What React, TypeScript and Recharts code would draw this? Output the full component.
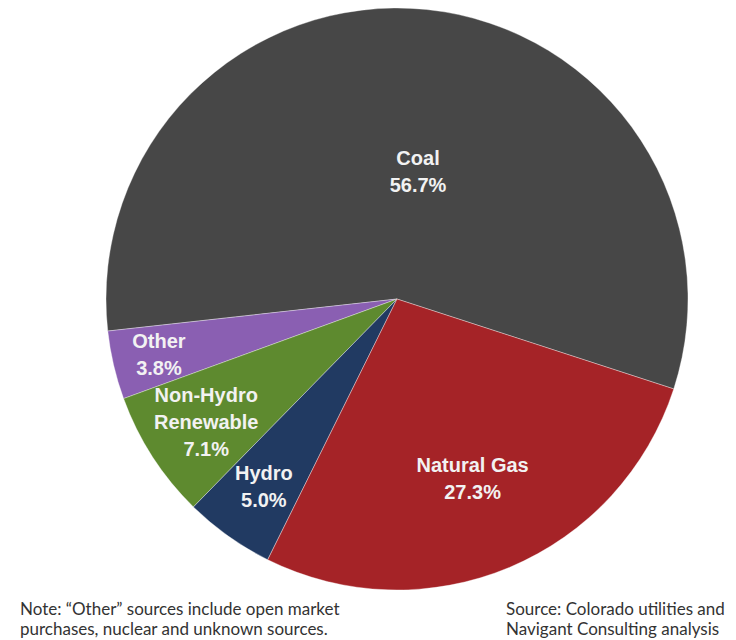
import { Cell, Pie, PieChart } from 'recharts'

const sources = ['Coal', 'Other', 'Non-Hydro Renewable', 'Hydro', 'Natural Gas']
const shares = [56.7, 3.8, 7.1, 5.0, 27.3]
const labelLines = [['Coal'], ['Other'], ['Non-Hydro', 'Renewable'], ['Hydro'], ['Natural Gas']]
const colors = ['#474747', '#8a5fb2', '#5e8a2f', '#213a62', '#a52327']

const data = sources.map((name, i) => ({ name, value: shares[i] }))

// how far out each label sits, as a share of the radius
const labelRadius = [0.44, 0.84, 0.78, 0.79, 0.67]

const RAD = Math.PI / 180

const renderLabel = (props: any) => {
  const { cx, cy, midAngle, outerRadius, index, value } = props
  const r = outerRadius * labelRadius[index]
  const x = cx + r * Math.cos(-midAngle * RAD) + (index === 0 ? 8 : 0)
  const y = cy + r * Math.sin(-midAngle * RAD)
  const lines = [...labelLines[index], `${value.toFixed(1)}%`]
  const lh = 27
  const top = y - ((lines.length - 1) * lh) / 2
  return (
    <text
      x={x}
      y={top}
      fill='#f2f2f2'
      textAnchor='middle'
      dominantBaseline='central'
      fontFamily='Liberation Sans, Arial, sans-serif'
      fontWeight='bold'
      fontSize={20}
    >
      {lines.map((l, i) => (
        <tspan key={i} x={x} y={top + i * lh}>
          {l}
        </tspan>
      ))}
    </text>
  )
}

const noteStyle = {
  position: 'absolute' as const,
  fontFamily: 'Lato, "Open Sans", sans-serif',
  fontSize: 17,
  lineHeight: '20px',
  color: '#333',
  whiteSpace: 'nowrap' as const,
}

export default function App() {
  return (
    <div style={{ position: 'absolute', left: 0, top: 0, width: 736, height: 640, background: '#fff', overflow: 'hidden' }}>
      <PieChart width={736} height={600} margin={{ top: 0, right: 0, bottom: 0, left: 0 }}>
        <Pie
          data={data}
          dataKey='value'
          nameKey='name'
          cx={397}
          cy={299}
          outerRadius={291}
          startAngle={-18}
          endAngle={342}
          stroke='rgba(255,255,255,0.35)'
          strokeWidth={1}
          label={renderLabel}
          labelLine={false}
          isAnimationActive={false}
        >
          {data.map((d, i) => (
            <Cell key={d.name} fill={colors[i]} />
          ))}
        </Pie>
      </PieChart>
      <div style={{ ...noteStyle, left: 20, top: 599 }}>
        Note: “Other” sources include open market
        <br />
        purchases, nuclear and unknown sources.
      </div>
      <div style={{ ...noteStyle, left: 506, top: 599 }}>
        Source: Colorado utilities and
        <br />
        Navigant Consulting analysis
      </div>
    </div>
  )
}
